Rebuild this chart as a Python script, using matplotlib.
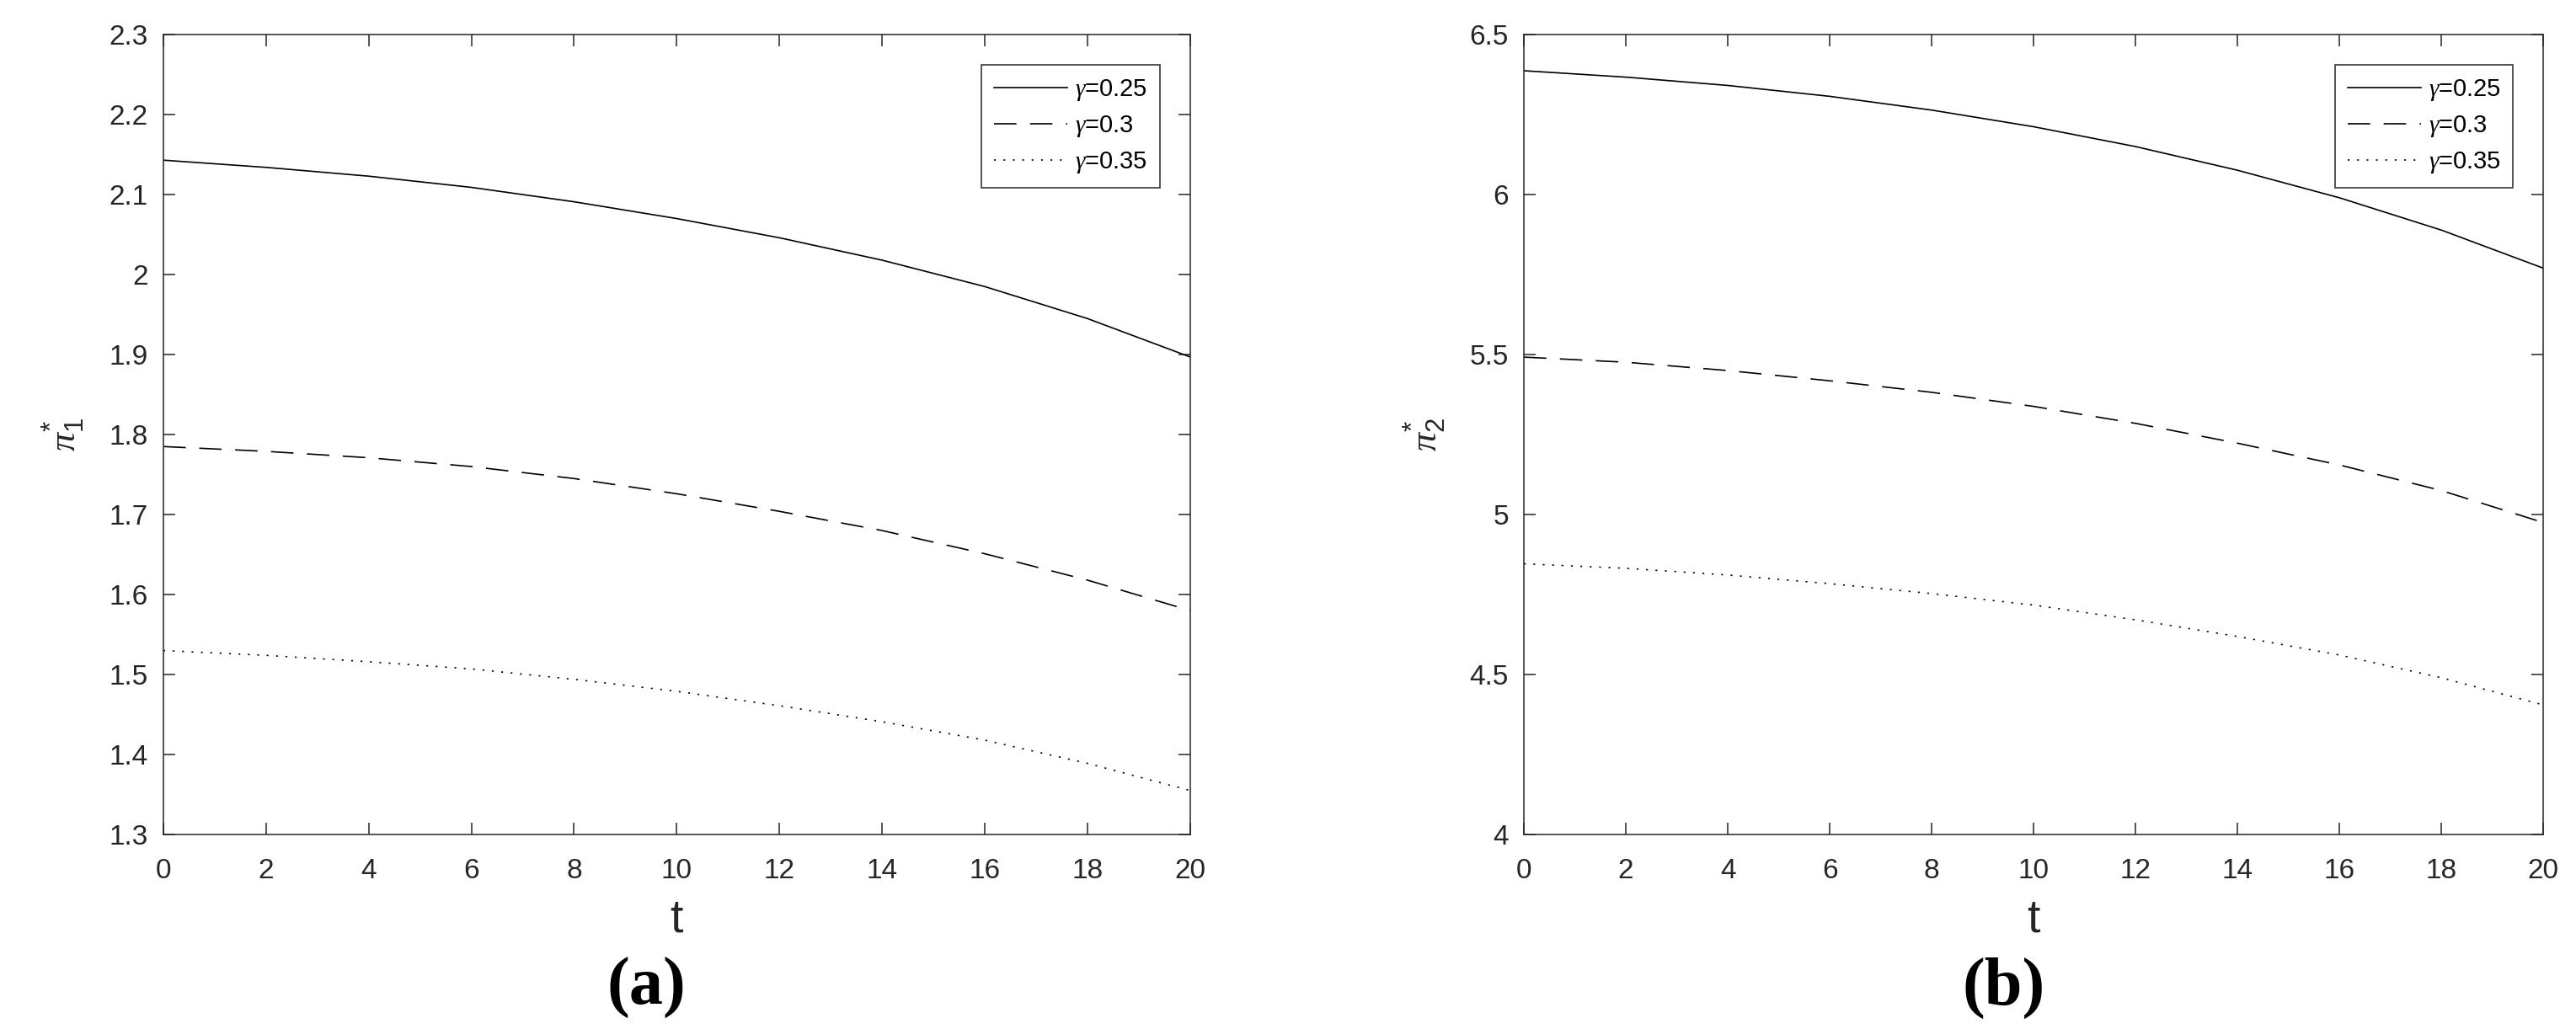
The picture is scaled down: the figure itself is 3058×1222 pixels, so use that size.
import matplotlib
matplotlib.use("Agg")
import matplotlib.pyplot as plt

plt.rcParams['font.family'] = ['Liberation Sans', 'DejaVu Sans']
plt.rcParams['mathtext.fontset'] = 'custom'
plt.rcParams['mathtext.rm'] = 'Liberation Sans'
plt.rcParams['mathtext.it'] = 'Liberation Serif:italic'
plt.rcParams['mathtext.bf'] = 'Liberation Sans:bold'

t = [0, 2, 4, 6, 8, 10, 12, 14, 16, 18, 20]
labels = [r'$\gamma$=0.25', r'$\gamma$=0.3', r'$\gamma$=0.35']

# panel (a): pi_1*
pi1_g025 = [2.143, 2.134, 2.123, 2.109, 2.091, 2.070, 2.046, 2.018, 1.985, 1.945, 1.897]
pi1_g030 = [1.785, 1.779, 1.771, 1.760, 1.745, 1.726, 1.704, 1.680, 1.651, 1.618, 1.580]
pi1_g035 = [1.530, 1.524, 1.516, 1.507, 1.494, 1.479, 1.461, 1.441, 1.418, 1.389, 1.355]

# panel (b): pi_2*
pi2_g025 = [6.387, 6.367, 6.341, 6.307, 6.264, 6.212, 6.150, 6.076, 5.990, 5.889, 5.770]
pi2_g030 = [5.492, 5.476, 5.450, 5.418, 5.382, 5.338, 5.285, 5.223, 5.155, 5.075, 4.975]
pi2_g035 = [4.846, 4.832, 4.811, 4.784, 4.753, 4.717, 4.671, 4.619, 4.561, 4.490, 4.405]

styles = ['-', (0, (16, 9.6)), (0, (1.3, 5.4))]
axcol = '#262626'

fig = plt.figure(figsize=(30.58, 12.22), dpi=100)
ax1 = fig.add_axes([0.0634, 0.189, 0.3986, 0.7774])
ax2 = fig.add_axes([0.5916, 0.189, 0.3957, 0.7774])


def draw(ax, series, ylim, yticks, ylab):
    for ys, ls, lab in zip(series, styles, labels):
        ax.plot(t, ys, color='black', linestyle=ls, linewidth=1.2, label=lab)
    ax.set_xlim(0, 20)
    ax.set_ylim(*ylim)
    ax.set_xticks(range(0, 21, 2))
    ax.set_yticks(yticks)
    ax.set_yticklabels([('%g' % v) for v in yticks])
    ax.tick_params(direction='in', length=10, width=1.1, colors=axcol,
                   labelsize=24, top=True, right=True)
    ax.tick_params(axis='x', pad=20)
    ax.tick_params(axis='y', pad=13)
    for s in ax.spines.values():
        s.set_color(axcol)
        s.set_linewidth(1.1)
    ax.set_xlabel('t', fontsize=40, color=axcol, labelpad=12)
    ax.set_ylabel(ylab, fontsize=32, color=axcol)
    ax.yaxis.set_label_coords(-0.075, 0.5)
    leg = ax.legend(loc='upper right', bbox_to_anchor=(0.9705, 0.962),
                    fontsize=21, handlelength=3.0, handletextpad=0.3,
                    borderpad=0.5, labelspacing=0.45, fancybox=False,
                    framealpha=1, edgecolor=axcol, borderaxespad=0)
    leg.get_frame().set_linewidth(1.1)


draw(ax1, [pi1_g025, pi1_g030, pi1_g035], (1.3, 2.3),
     [1.3, 1.4, 1.5, 1.6, 1.7, 1.8, 1.9, 2.0, 2.1, 2.2, 2.3], r'$\pi^{*}_{\mathrm{1}}$')
draw(ax2, [pi2_g025, pi2_g030, pi2_g035], (4, 6.5),
     [4, 4.5, 5, 5.5, 6, 6.5], r'$\pi^{*}_{\mathrm{2}}$')

fig.text(0.2508, 0.01, '(a)', ha='center', va='bottom', fontsize=58,
         fontweight='bold', family='Liberation Serif')
fig.text(0.778, 0.01, '(b)', ha='center', va='bottom', fontsize=58,
         fontweight='bold', family='Liberation Serif')

fig.savefig('out.png', dpi=100)
